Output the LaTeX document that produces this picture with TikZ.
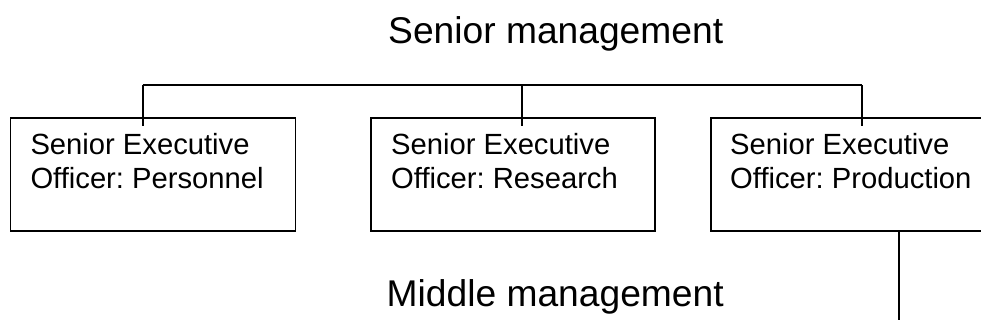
\documentclass[tikz,border=0pt]{standalone}
\usepackage{fontspec}
\setmainfont{Liberation Sans}
\frenchspacing
\begin{document}
\begin{tikzpicture}[x=1pt,y=-1pt,
  box/.style={draw,line width=1.8pt,rectangle,anchor=north west,inner sep=0pt,
    minimum width=285pt,minimum height=113pt},
  boxtext/.style={anchor=base west,inner sep=0pt,align=left,
    font=\fontsize{29.2}{34}\selectfont},
  heading/.style={anchor=base west,inner sep=0pt,font=\fontsize{37.2}{42}\selectfont},
  link/.style={line width=1.8pt}]
\useasboundingbox (0,0) rectangle (981,327);
\clip (0,0) rectangle (981,327);

% level titles
\node[heading] (senior) at (388,43.3) {Senior management};
\node[heading] (middle) at (386.5,306.7) {Middle management};

% executive officer boxes
\node[box] (b1) at (9.5,116.7) {};
\node[box,minimum width=284pt] (b2) at (370,116.7) {};
\node[box,minimum width=300pt] (b3) at (710,116.7) {};

% two-line labels, placed by the baseline of their second line
\node[boxtext] (t1) at (30.3,188.3) {Senior Executive\\Officer: Personnel};
\node[boxtext] (t2) at (391,188.3) {Senior Executive\\Officer: Research};
\node[boxtext] (t3) at (730,188.3) {Senior Executive\\Officer: Production};

% connectors from the top bar into each box
\coordinate (bar1) at (142.7,85);
\coordinate (bar2) at (521.7,85);
\coordinate (bar3) at (862,85);
\draw[link] (bar1) -- (bar3);
\draw[link] (bar1) -- (142.7,126);
\draw[link] (bar2) -- (521.7,126);
\draw[link] (bar3) -- (862,126);

% line down from the production box
\coordinate (down) at (899.3,320);
\draw[link] (b3.south west -| down) -- (down);
\end{tikzpicture}
\end{document}
